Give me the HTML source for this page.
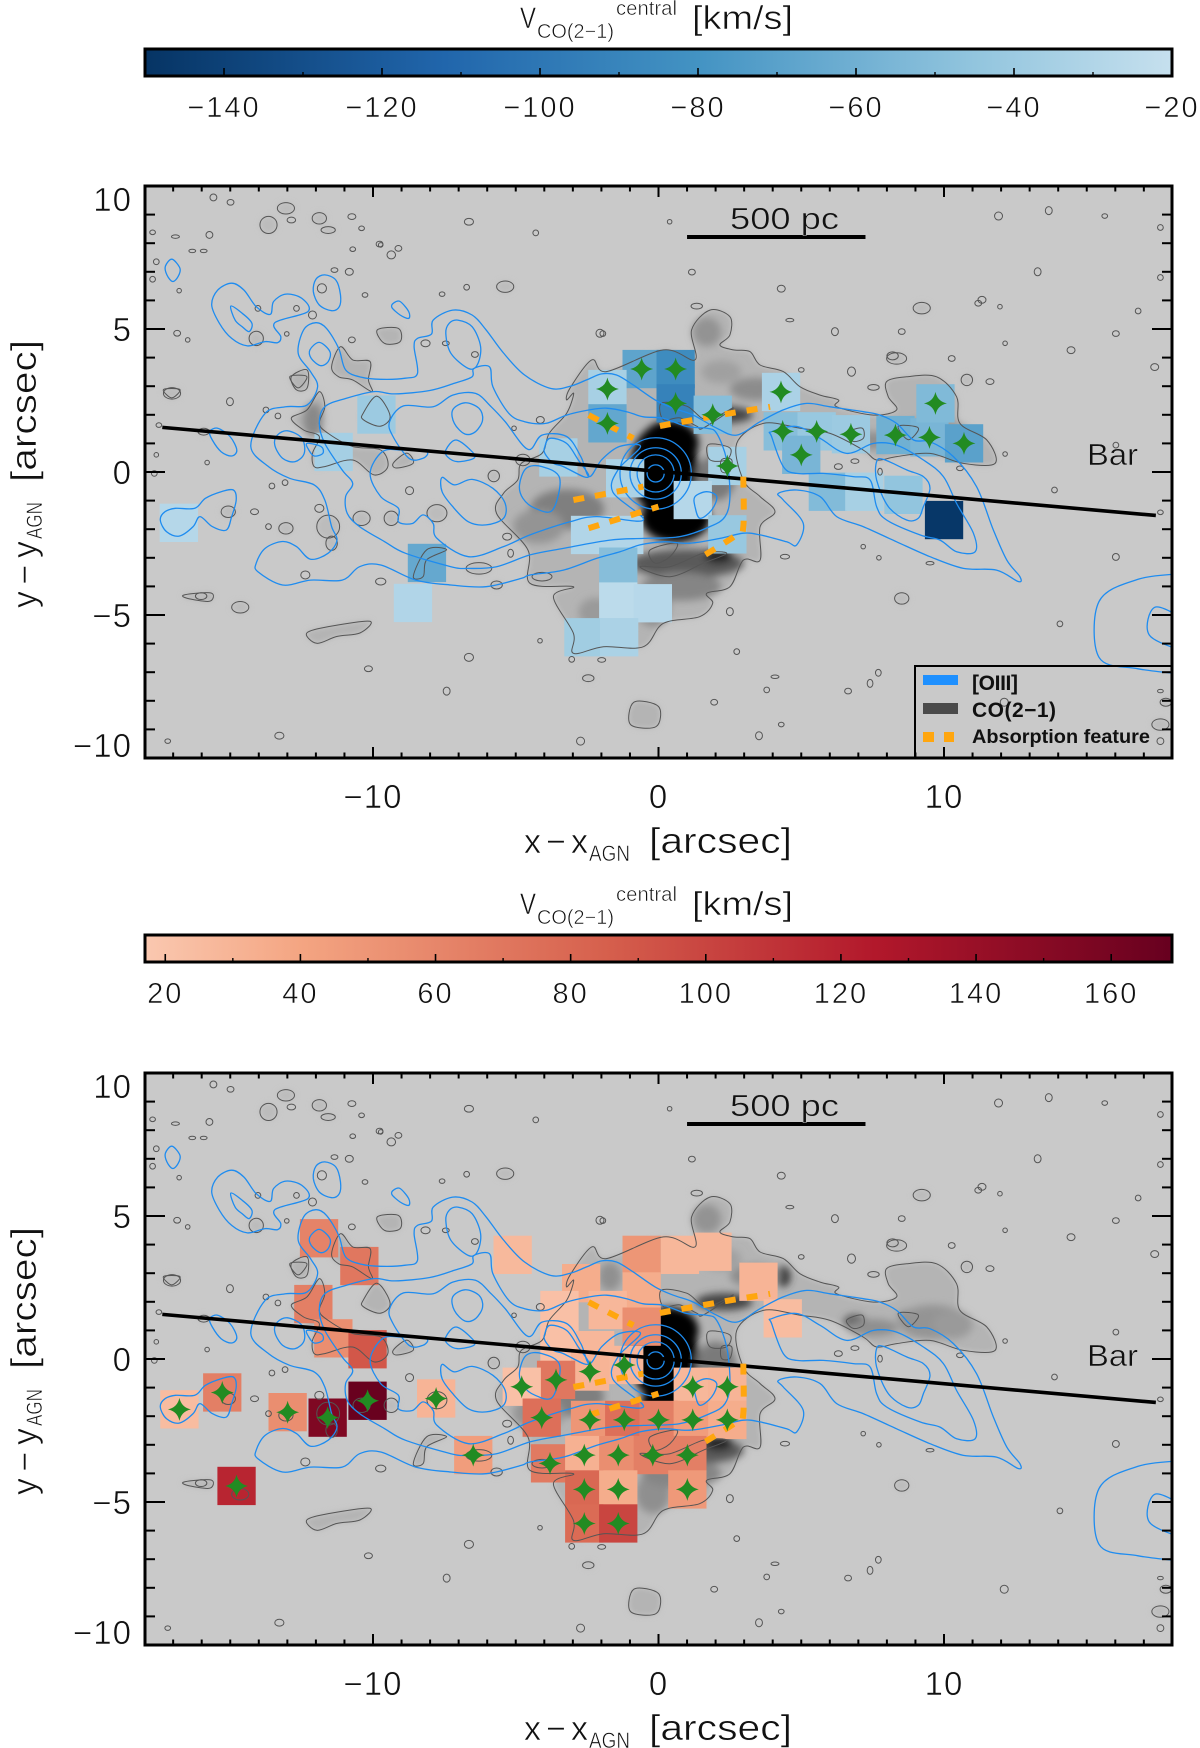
<!DOCTYPE html>
<html lang="en">
<head>
<meta charset="utf-8">
<title>CO(2-1) central velocity maps</title>
<style>
html,body{margin:0;padding:0;background:#fff;}
svg{display:block;}
text{font-family:"Liberation Sans",sans-serif;}
.t{fill:#111;stroke:#fff;stroke-width:.55px;}
.s{fill:#111;stroke:#c9c9c9;stroke-width:.5px;}
</style>
</head>
<body>
<svg id="fig" width="1200" height="1748" viewBox="0 0 1200 1748">
<defs>
<filter id="blur-soft" x="-10%" y="-10%" width="120%" height="120%"><feGaussianBlur stdDeviation="3"/></filter>
<filter id="blur-core" x="-10%" y="-10%" width="120%" height="120%"><feGaussianBlur stdDeviation="4"/></filter>
<clipPath id="clip-top"><rect x="145" y="186" width="1027" height="572"/></clipPath>
<clipPath id="clip-bottom"><rect x="145" y="1073" width="1027" height="572"/></clipPath>
</defs>

<g id="bar-blue"></g>
<g id="bar-red"></g>
<g id="panel-top"></g>
<g id="panel-bottom"></g>

<g>
<text class="t" x="520" y="28" font-size="30" textLength="16" lengthAdjust="spacingAndGlyphs">V</text>
<text class="t" x="537" y="38" font-size="20" textLength="77" lengthAdjust="spacingAndGlyphs">CO(2−1)</text>
<text class="t" x="616" y="15" font-size="20" textLength="61" lengthAdjust="spacingAndGlyphs">central</text>
<text class="t" x="692" y="29" font-size="33" textLength="101" lengthAdjust="spacingAndGlyphs">[km/s]</text>
</g>
<g>
<text class="t" x="520" y="914" font-size="30" textLength="16" lengthAdjust="spacingAndGlyphs">V</text>
<text class="t" x="537" y="924" font-size="20" textLength="77" lengthAdjust="spacingAndGlyphs">CO(2−1)</text>
<text class="t" x="616" y="901" font-size="20" textLength="61" lengthAdjust="spacingAndGlyphs">central</text>
<text class="t" x="692" y="915" font-size="33" textLength="101" lengthAdjust="spacingAndGlyphs">[km/s]</text>
</g>

<g>
<text class="t" x="524" y="853" font-size="34" textLength="64">x−x</text>
<text class="t" x="589" y="861" font-size="22" textLength="41" lengthAdjust="spacingAndGlyphs">AGN</text>
<text class="t" x="649" y="853" font-size="36" textLength="143" lengthAdjust="spacingAndGlyphs">[arcsec]</text>
</g>
<g>
<text class="t" x="524" y="1740" font-size="34" textLength="64">x−x</text>
<text class="t" x="589" y="1748" font-size="22" textLength="41" lengthAdjust="spacingAndGlyphs">AGN</text>
<text class="t" x="649" y="1740" font-size="36" textLength="143" lengthAdjust="spacingAndGlyphs">[arcsec]</text>
</g>
<g>
<text class="t" transform="translate(36,608) rotate(-90)" font-size="34" textLength="67">y−y</text>
<text class="t" transform="translate(42,539) rotate(-90)" font-size="22" textLength="37" lengthAdjust="spacingAndGlyphs">AGN</text>
<text class="t" transform="translate(36,482) rotate(-90)" font-size="36" textLength="142" lengthAdjust="spacingAndGlyphs">[arcsec]</text>
</g>
<g>
<text class="t" transform="translate(36,1495) rotate(-90)" font-size="34" textLength="67">y−y</text>
<text class="t" transform="translate(42,1426) rotate(-90)" font-size="22" textLength="37" lengthAdjust="spacingAndGlyphs">AGN</text>
<text class="t" transform="translate(36,1369) rotate(-90)" font-size="36" textLength="142" lengthAdjust="spacingAndGlyphs">[arcsec]</text>
</g>
</svg>

<script>
/* ---------- colour-scale data ---------- */
const blueStopValues = [-150, -112, -80, -45, -20];
const blueStopColors = ['#063464', '#2166ac', '#4393c3', '#92c5de', '#c6e0ee'];
const redStopValues = [17, 40, 85, 125, 169];
const redStopColors = ['#fac8b0', '#f4a582', '#d6604d', '#b2182b', '#67001f'];
const blueBarTicks = [-140, -120, -100, -80, -60, -40, -20];
const blueBarMinor = [-150, -130, -110, -90, -70, -50, -30];
const redBarTicks = [20, 40, 60, 80, 100, 120, 140, 160];
const redBarMinor = [30, 50, 70, 90, 110, 130, 150];

/* ---------- axis ticks ---------- */
const xTickMajor = [-10, 0, 10];
const yTickMajor = [10, 5, 0, -5, -10];

/* ---------- blueshifted velocity cells (arcsec, km/s) ---------- */
const blueCellX = [-0.59, 0.6, -1.79, -1.79, 0.6, 1.9, 4.29, 4.35, 5.54, 6.74, 5.0, 8.3, 9.49, 10.7, 9.7, 2.41, 1.2, 2.41, -1.17, -3.51, -2.4, -1.2, -1.41, -1.41, -0.2, -2.63, -1.38, 5.93, 7.21, 8.58, 10.0, -9.88, -11.38, -16.8, -8.11, -8.6];
const blueCellY = [3.6, 3.6, 2.9, 1.7, 2.4, 2.0, 2.8, 1.42, 1.42, 1.32, 0.6, 1.29, 1.21, 1.0, 2.4, 0.21, -0.98, -2.18, -0.22, 0.51, -2.2, -2.2, -3.31, -4.53, -4.59, -5.78, -5.78, -0.69, -0.69, -0.8, -1.68, 2.01, 0.7, -1.78, -3.18, -4.58];
const blueCellV = [-68, -85, -35, -66, -92, -50, -33, -50, -42, -40, -56, -60, -56, -70, -53, -35, -28, -42, -33, -35, -30, -30, -50, -25, -27, -38, -33, -52, -35, -45, -148, -40, -36, -28, -65, -30];
const blueCellStar = [1, 1, 1, 1, 1, 1, 1, 1, 1, 1, 1, 1, 1, 1, 1, 1, 0, 0, 0, 0, 0, 0, 0, 0, 0, 0, 0, 0, 0, 0, 0, 0, 0, 0, 0, 0];

/* ---------- redshifted velocity cells (arcsec, km/s) ---------- */
const redCellX = [-11.89, -10.48, -12.09, -11.39, -10.19, -16.78, -15.28, -12.99, -11.59, -10.19, -7.79, -6.49, -14.78, -5.11, -0.59, 0.75, 1.89, 3.5, 4.35, -2.71, -0.59, -1.78, -0.59, -3.47, -3.47, -2.22, -1.2, -2.4, -3.59, -4.79, 1.2, 2.41, -4.09, -2.4, -1.2, 0, 1.2, 2.41, -3.8, -2.6, -1.41, -0.2, 1.01, -2.6, -1.41, 1.01, -2.6, -1.41];
const redCellY = [4.22, 3.25, 1.92, 0.72, 0.34, -1.76, -1.17, -1.86, -2.05, -1.46, -1.38, -3.36, -4.44, 3.64, 3.64, 3.64, 3.75, 2.7, 1.42, 2.65, 2.36, 1.71, 1.13, 1.71, 0.43, 0.31, -0.21, -0.44, -0.73, -0.97, -0.97, -0.97, -2.05, -2.13, -2.13, -2.13, -2.13, -2.13, -3.65, -3.36, -3.36, -3.36, -3.36, -4.56, -4.56, -4.56, -5.75, -5.75];
const redCellV = [62, 70, 65, 55, 90, 25, 65, 55, 155, 168, 30, 45, 118, 27, 50, 28, 28, 30, 25, 35, 35, 28, 55, 22, 22, 28, 28, 30, 70, 22, 28, 30, 75, 50, 75, 65, 45, 35, 68, 32, 55, 65, 65, 80, 35, 48, 78, 100];
const redCellStar = [0, 0, 0, 0, 0, 1, 1, 1, 1, 1, 1, 1, 1, 0, 0, 0, 0, 0, 0, 0, 0, 0, 0, 0, 0, 0, 1, 1, 1, 1, 1, 1, 1, 1, 1, 1, 1, 1, 1, 1, 1, 1, 1, 1, 1, 1, 1, 1];

/* ---------- bar axis and absorption feature (arcsec) ---------- */
const barLineX = [-17.38, 17.42];
const barLineY = [1.56, -1.52];
const absorptionCurves = [
 [[-2.45,1.99],[-0.88,1.18]],
 [[0.05,1.61],[0.87,1.76],[2.39,2.03],[3.91,2.28]],
 [[-2.98,-0.98],[-0.53,-0.51]],
 [[-2.45,-1.97],[0,-1.21]],
 [[2.97,-0.16],[2.97,-1.91],[2.74,-2.2],[1.51,-2.97]]
];

/* ---------- [OIII] contours (arcsec) ---------- */
const oiiiRings = [0.3, 0.65, 0.9, 1.25];
const oiiiClosed = [
 [[-17.04,7.44],[-16.76,7.12],[-16.83,6.83],[-17.02,6.66],[-17.22,6.89],[-17.27,7.2]],
 [[-14.95,6.6],[-14.52,6.36],[-14.09,5.78],[-13.6,5.51],[-13.48,5.96],[-13.05,6.22],[-12.49,6.07],[-12.28,5.61],[-13.44,5.22],[-13.23,4.73],[-13.35,4.52],[-13.78,4.56],[-14.4,4.41],[-14.95,4.67],[-15.38,5.2],[-15.65,5.84],[-15.44,6.36]],
 [[-11.69,6.89],[-11.3,6.71],[-11.14,6.19],[-11.18,5.78],[-11.45,5.64],[-11.88,5.84],[-12.09,6.31],[-12,6.74]],
 [[-14.98,5.8],[-14.58,5.55],[-14.24,5.2],[-14.34,4.91],[-14.58,5.08],[-14.83,5.31]],
 [[-9.05,5.96],[-8.75,5.61],[-8.75,5.37],[-9.05,5.49],[-9.34,5.76],[-9.26,5.92]],
 [[-11.88,4.53],[-11.51,4.21],[-11.57,3.86],[-11.84,3.72],[-12.16,3.97],[-12.21,4.27]],
 [[-12,5.22],[-11.63,5.02],[-11.2,4.32],[-10.96,3.57],[-10.4,3.31],[-9.73,3.24],[-8.87,3.28],[-8.44,3.45],[-8.56,4.38],[-8.44,4.67],[-7.95,4.82],[-7.89,5.31],[-7.21,5.66],[-6.53,5.49],[-6.04,4.97],[-5.43,4.16],[-4.69,3.39],[-3.77,2.92],[-3.09,3],[-2.52,3.22],[-1.99,3.43],[-1.47,3.39],[-0.88,3.04],[-0.12,2.52],[0.52,2.23],[1.22,1.99],[2.04,1.53],[2.74,1.29],[3.56,1.76],[4.37,2.17],[5.19,2.4],[6.01,2.28],[7.17,2.11],[7.76,1.99],[8.34,1.7],[8.93,1.12],[9.51,1.06],[10.33,0.54],[11.14,-0.51],[11.73,-2.03],[12.2,-3.08],[12.66,-3.66],[12.6,-3.83],[11.84,-3.43],[10.68,-3.37],[9.51,-2.96],[8.34,-2.44],[7.17,-1.91],[6.24,-1.56],[5.66,-0.86],[4.84,-0.63],[4.2,-0.75],[4.37,-0.98],[5.07,-1.79],[4.84,-2.55],[4.49,-2.44],[3.56,-2.2],[2.97,-2.14],[2.15,-2.32],[1.1,-2.49],[0.17,-2.44],[-0.65,-2.55],[-1.35,-2.79],[-2.17,-3.02],[-3.33,-3.43],[-4.5,-3.6],[-4.81,-3.72],[-6.04,-4.01],[-7.27,-3.95],[-8.5,-3.78],[-9.73,-3.25],[-10.47,-3.31],[-11.08,-3.78],[-12.19,-3.78],[-13.17,-3.95],[-14.03,-3.49],[-14.09,-3.19],[-13.78,-2.67],[-13.17,-2.43],[-12.68,-2.61],[-12.19,-3.05],[-11.57,-2.84],[-11.26,-2.38],[-11.45,-1.91],[-11.69,-0.98],[-12.06,-0.45],[-12.92,-0.22],[-13.66,0.19],[-14.28,0.89],[-13.78,2.05],[-13.05,2.28],[-12.31,2.34],[-11.94,2.98],[-12.19,3.51],[-12.62,4.15],[-12.43,4.97]],
 [[-11.88,1.7],[-11.69,2.28],[-10.96,2.57],[-9.97,2.81],[-9.24,2.73],[-8.01,2.85],[-7.15,3.1],[-6.53,3.33],[-6.47,3.62],[-5.92,3.68],[-5.8,2.98],[-5.24,2.05],[-4.69,1.76],[-3.95,1.7],[-3.22,1.99],[-2.42,2.17],[-1.82,2.23],[-1.12,2.11],[-0.53,1.93],[0.17,1.88],[0.99,1.59],[1.69,1.53],[2.04,1.35],[2.39,0.42],[2.5,-0.86],[2.33,-1.56],[1.8,-1.91],[0.75,-2.26],[-0.53,-2.32],[-1.7,-2.38],[-3.33,-2.67],[-4.5,-2.9],[-5.67,-3.31],[-6.66,-3.37],[-7.27,-3.31],[-8.87,-2.84],[-9.6,-2.43],[-10.47,-1.91],[-10.9,-1.45],[-10.96,-0.86],[-10.71,-0.4],[-11.08,0.07],[-11.69,1]],
 [[-9.42,1.76],[-8.93,2.31],[-7.89,2.28],[-7.21,2.69],[-6.41,2.75],[-5.86,2.28],[-5.37,1.76],[-4.57,0.79],[-4.08,1.29],[-3.22,1.24],[-2.72,0.54],[-2.42,-0.16],[-1.99,0.43],[-1.37,0.89],[-0.63,0.89],[-1.4,0.1],[-1.6,-0.7],[-0.53,-1.68],[-2.17,-1.56],[-3.1,-1.74],[-4.5,-2.2],[-5.43,-2.61],[-6.66,-2.96],[-7.76,-2.32],[-7.89,-1.8],[-8.25,-1.5],[-8.62,-1.8],[-9.11,-1.74],[-9.11,-1.27],[-9.73,-0.86],[-10.1,-0.05],[-9.67,0.71],[-8.99,0.77],[-8.13,0.71],[-8.25,0.48],[-8.74,0.48],[-9.3,1.24]],
 [[-6.78,2.42],[-6.29,2.23],[-6.16,1.82],[-6.41,1.41],[-6.78,1.33],[-7.15,1.7],[-7.21,2.17]],
 [[-7.03,5.31],[-6.53,5.08],[-6.23,4.38],[-6.35,3.74],[-6.66,3.62],[-7.27,4.15],[-7.45,4.85],[-7.33,5.2]],
 [[-15.44,1.53],[-15.01,1.24],[-14.77,0.77],[-14.95,0.56],[-15.32,0.71],[-15.63,1.12],[-15.72,1.41]],
 [[-12.99,1.44],[-12.49,1.18],[-12.41,0.65],[-12.74,0.36],[-13.17,0.48],[-13.44,0.94],[-13.35,1.29]],
 [[-12.31,1],[-11.82,0.89],[-11.76,0.65],[-12.06,0.56],[-12.25,0.77]],
 [[-16.92,-1.27],[-16.24,-1.27],[-15.87,-0.92],[-15.32,-0.69],[-14.89,-0.63],[-14.79,-0.98],[-14.95,-1.56],[-15.14,-2.03],[-15.63,-1.91],[-16.06,-1.56],[-16.3,-1.91],[-16.79,-2.24],[-17.23,-2.09],[-17.45,-1.68],[-17.29,-1.39]],
 [[-7.09,1.12],[-6.53,0.71],[-6.47,0.48],[-7.03,0.36],[-7.39,0.53],[-7.45,0.77]],
 [[-7.58,-0.19],[-7.15,-0.45],[-6.53,-0.26],[-5.8,-0.57],[-5.37,-1.1],[-5.43,-1.62],[-6.04,-1.85],[-6.66,-1.74],[-7.21,-1.21],[-7.58,-0.69]],
 [[-3.98,0.89],[-3.8,1.18],[-3.22,1],[-2.81,0.42],[-2.45,-0.1],[-2.63,-0.16],[-3.33,0.19],[-3.68,0.3],[-3.98,0.65]],
 [[-4.87,-0.45],[-4.63,0.13],[-4.08,0.19],[-3.46,-0.22],[-3.71,-1.33],[-4.32,-1.27],[-4.75,-0.92]],
 [[7.64,0.36],[7.88,0.44],[8.7,0.07],[9.28,-0.16],[9.51,-0.57],[9.28,-1.21],[9.1,-1.62],[8.69,-1.68],[8.05,-1.21],[7.64,-0.28]],
 [[3.96,1.24],[4.37,0.19],[4.84,-0.05],[5.77,-0.05],[6.82,-0.16],[7.41,-0.28],[7.64,-1.21],[7.99,-1.68],[9.16,-2.2],[9.86,-2.38],[10.44,-2.79],[11.09,-2.79],[11.03,-2.14],[10.44,-1.1],[9.98,-0.16],[9.28,0.42],[8.34,0.94],[7.53,1],[6.59,0.65],[5.66,1.18],[4.84,1.59],[3.96,1.41]],
 [[1.28,-0.86],[1.69,-0.69],[2.04,-0.86],[1.86,-1.33],[1.45,-1.62],[1.28,-1.21]]
];
const oiiiOpen = [
 [[18.4,-3.55],[16.8,-3.75],[15.43,-4.53],[15.43,-6.48],[16.8,-6.88],[18.4,-7.07]],
 [[18.4,-5.12],[17.38,-4.73],[17.19,-5.7],[18.4,-6.28]]
];

/* ---------- CO(2-1) emission outlines (arcsec) ---------- */
const coOutlines = [
 [[-3.22,2.52],[-3.1,2.93],[-2.34,3.92],[-1.82,3.51],[0.17,4.27],[1.28,3.92],[1.16,4.97],[1.8,5.66],[2.5,5.43],[2.5,4.79],[2.15,4.44],[2.62,4.27],[3.2,4.21],[3.56,3.74],[4.37,3.51],[4.96,2.98],[5.66,2.69],[6.3,2.52],[6.24,2.28],[7.53,1.99],[8.34,2.17],[8.05,2.63],[7.99,3.16],[8.69,3.33],[9.74,3.33],[10.44,2.63],[10.56,1.7],[11.5,1.12],[11.79,0.3],[10.68,0.3],[9.51,0.65],[8.34,0.54],[7.64,0.42],[7.17,0.77],[6.01,1.35],[4.96,1.53],[3.67,1.7],[2.74,1],[2.97,-0.28],[3.56,-0.86],[4.08,-1.39],[3.56,-1.91],[3.56,-3.08],[2.97,-3.08],[2.5,-4.01],[1.69,-4.24],[1.9,-4.59],[1.44,-5.06],[0.17,-5.29],[-0.53,-6.11],[-1.93,-6.11],[-2.98,-6.34],[-2.98,-5.64],[-3.68,-4.36],[-2.98,-4.01],[-4.5,-3.89],[-4.57,-2.73],[-5.67,-1.45],[-5.43,-0.75],[-4.93,-0.28],[-4.81,0.3],[-4.08,0.65],[-3.83,1.35],[-3.22,2.05],[-2.97,2.75]],
 [[-12.86,1.88],[-12.31,2.17],[-11.88,2.81],[-11.69,2.28],[-11.88,1.7],[-11.57,1.35],[-10.71,0.89],[-9.73,0.77],[-9.48,0.19],[-9.97,-0.1],[-10.71,0.42],[-11.69,0.19],[-12.06,0.19],[-12.12,0.65],[-11.88,1.24],[-12.43,1.47]],
 [[-11.14,4.38],[-10.71,3.92],[-10.1,3.86],[-10.16,3.22],[-10.04,2.81],[-10.71,3.22],[-11.2,3.33],[-11.45,3.68]],
 [[-12.86,3.33],[-12.31,3.57],[-12.31,2.93],[-12.68,2.87]],
 [[-9.85,4.97],[-9.11,5.02],[-9.05,4.56],[-9.6,4.5]],
 [[-12.32,-5.63],[-11.51,-5.4],[-10.11,-5.22],[-10.46,-5.63],[-11.27,-5.75],[-11.97,-5.99]],
 [[-10.34,2.06],[-9.86,2.65],[-9.4,1.95],[-9.75,1.6],[-10.34,1.83]],
 [[-9.29,0.31],[-8.82,0.66],[-8.59,0.31],[-9.17,0.14]],
 [[-16.59,-4.29],[-15.67,-4.23],[-15.73,-4.52],[-16.53,-4.41]],
 [[-8.59,-3.65],[-8.12,-2.72],[-7.42,-2.72],[-8.12,-3.07],[-8.24,-3.65]],
 [[-17.34,2.88],[-16.76,2.88],[-17.05,2.59]],
 [[-12.91,3.34],[-12.32,3.34],[-12.62,2.94]],
 [[-0.86,-8.05],[0,-8.2],[-0.08,-8.9],[-0.98,-8.83]]
];
const coInnerContours = [
 [[1.75,0.96],[2.5,0.84],[2.39,0.43],[1.8,0.43]],
 [[2.21,0.43],[2.56,0.43],[2.5,0.02],[2.21,0.02]],
 [[0.11,2.41],[0.99,2.3],[1.69,1.83],[2.62,2.24],[1.57,1.54],[1.34,1.6],[0.75,1.89],[0.17,1.83]],
 [[6.59,1.36],[7.12,1.54],[7.18,1.19],[6.82,1.07]],
 [[8.4,1.6],[9.1,1.54],[8.75,1.13]],
 [[-0.3,-2.73],[0.64,-2.49],[0.4,-2.96],[-0.12,-3.19]],
 [[-0.65,-3.31],[0.4,-3.66],[1.57,-3.19],[2.39,-2.84],[1.57,-2.84],[0.4,-3.31]]
];
const coCoreX = [0.2, 0.6, 1.0, 0.4, 2.3, 4.37, 6.88, 8.8, 2.1, -3.2, -1.7, -0.2, 1.7, -12.1, 2.0, 3.4, 9.6, 0.8, -4.2, -2.2, 10.3, 7.5, 2.2];
const coCoreY = [0.1, -1.6, -3.2, 1.0, 2.0, 2.88, 1.3, 1.42, -2.95, -1.3, 2.88, -4.7, 4.9, 1.82, -0.2, 2.9, 1.3, -4.0, -1.9, -4.9, 1.2, 1.1, 3.5];
const coCoreRx = [1.2, 1.2, 2.0, 1.0, 1.0, 0.25, 0.4, 0.4, 0.5, 1.3, 0.4, 0.6, 0.5, 0.35, 0.7, 0.9, 1.2, 1.4, 0.9, 0.6, 0.7, 0.9, 0.7];
const coCoreRy = [1.6, 0.85, 0.5, 0.8, 0.3, 0.35, 0.25, 0.3, 0.25, 0.7, 0.5, 0.7, 0.5, 0.6, 0.8, 0.4, 0.6, 0.5, 0.6, 0.5, 0.5, 0.3, 0.4];
const coCoreShade = ['#000', '#000', '#5a5a5a', '#000', '#444', '#333', '#555', '#555', '#222', '#7f7f7f', '#909090', '#8f8f8f', '#939393', '#888', '#7a7a7a', '#8c8c8c', '#949494', '#858585', '#949494', '#9a9a9a', '#9a9a9a', '#8f8f8f', '#a0a0a0'];

const islandX = [-15.59,-14.99,-13.05,-13.66,-12.86,-11.88,-11.57,-10.74,-10.4,-17.72,-16.92,-15.73,-16.33,-15.93,-10.71,-9.73,-9.36,-9.11,-17.59,-17.72,-16.79,-11.35,-10.83,-11.79,-10.28,-7.58,-6.72,-5.37,-2.05,-14.03,-12.68,-12.12,-16.86,-16.49,-14.09,-13.02,-10.74,-8.16,-7.45,-6.43,-17.04,-15.01,-13.75,-13.33,-17.5,-15.93,-5.06,-4.14,-4.75,-5.77,-8.72,-13.54,-13.08,-15.81,-17.59,-17.66,-14.15,-15.07,-13.05,-11.88,-11.57,-10.4,-9.36,-7.76,-11.45,-13.66,-5.3,-5.18,-12.37,-9.73,-6.29,-5.67,-4.08,1.34,9.22,11.2,11.96,4.6,6.18,8.52,12.14,6.76,5,8.34,10.27,10.8,7.53,11.61,12.14,6.3,6.88,7.76,10.56,7.17,7.72,4.43,9.51,8.52,2.5,2.74,3.79,4.08,-2.46,-1.99,-3.04,-4.15,7.7,7.41,11.91,13.28,11.33,8.2,15.63,17.58,14.45,16.02,17.38,17.58,16.8,13.67,17.58,17.58,17.77,17.58,12.11,6.64,4.3,-2.73,-7.42,-13.28,-17.19,-10.16,-6.64,-14.65,-16.02,1.95,3.52,14.06,16.02,17.58,13.87,16.02,-6.64,-9.77,-4.3,0.39,4.3,1.17,-1.95];
const islandY = [9.6,9.43,9.22,8.64,8.81,8.87,8.46,8.93,8.52,8.38,8.23,8.29,7.73,7.73,7.79,7.94,7.59,7.82,7.35,6.74,6.34,7.06,7,6.42,6.19,6.22,6.46,6.48,4.85,5.72,5.72,5.49,4.85,4.62,4.67,4.83,4.62,4.5,4.5,4.11,2.75,2.46,2.17,1.96,1.64,1.41,1.53,1.82,0.42,-0.14,-0.65,-0.49,-0.37,0.33,0.6,-0.05,-1.39,-1.39,-1.97,-1.27,-1.91,-1.62,-1.62,-1.44,-2.49,-1.91,-2.26,-2.84,-3.6,-3.83,-3.37,-3.95,-3.66,5.8,5.73,5.9,5.78,5.31,4.91,4.91,4.5,3.51,3.57,3.97,3.97,3.22,2.96,3.16,0.63,0.19,0.38,0.01,0.13,-2.61,-3,-2.96,-3.19,-4.42,-4.88,-6.28,-7.62,-7.16,-7.21,-6.57,-6.55,-5.9,-7.02,-7.39,8.95,7,6.02,4.06,8.95,8.55,4.26,4.84,3.67,6.8,5.63,9.14,-7.66,-8.83,-8.05,-9.41,-8.05,-7.66,-8.83,-9.41,-7.66,-9.22,-9.41,-6.88,-6.48,-4.73,-4.34,-8.05,-9.22,-5.31,-2.97,-1.41,-0.63,0.94,8.75,7.97,8.36,8.75,6.41,6.99,4.84];
const islandRx = [.12,.12,.3,.3,.15,.25,.25,.14,.1,.1,.14,.12,.12,.12,.1,.08,.15,.12,.1,.1,.08,.12,.14,.16,.1,.1,.1,.3,.14,.1,.1,.14,.12,.08,.25,.08,.12,.16,.12,.12,.3,.12,.1,.1,.1,.2,.08,.14,.25,.2,.14,.1,.1,.08,.08,.1,.14,.25,.25,.16,.4,.3,.25,.35,.2,.1,.16,.1,.16,.18,.45,.2,.35,.2,.3,.12,.08,.14,.12,.12,.08,.14,.1,.35,.12,.2,.2,.14,.08,.14,.14,.08,.12,.08,.08,.16,.14,.25,.12,.1,.1,.14,.2,.14,.1,.08,.1,.1,.14,.12,.14,.2,.1,.1,.14,.12,.14,.1,.1,.12,.1,.3,.2,.12,.14,.12,.1,.14,.12,.16,.1,.14,.16,.3,.2,.12,.12,.1,.12,.1,.1,.1,.16,.12,.1,.08,.14,.12,.1];
const islandRy = [.12,.1,.2,.3,.1,.2,.12,.1,.08,.08,.06,.12,.06,.06,.08,.08,.14,.1,.1,.1,.08,.08,.12,.16,.08,.08,.1,.2,.14,.1,.1,.14,.1,.08,.25,.08,.1,.12,.08,.1,.2,.14,.1,.1,.08,.12,.08,.12,.2,.2,.14,.1,.1,.08,.08,.1,.1,.2,.2,.14,.4,.25,.25,.3,.25,.1,.12,.14,.14,.12,.2,.14,.15,.1,.2,.1,.08,.06,.14,.1,.08,.16,.08,.2,.1,.2,.1,.1,.08,.1,.08,.12,.08,.08,.08,.08,.06,.2,.14,.1,.1,.06,.12,.08,.1,.08,.12,.14,.14,.14,.12,.14,.08,.1,.12,.1,.12,.1,.1,.14,.06,.2,.14,.12,.14,.1,.08,.14,.14,.12,.08,.1,.14,.2,.12,.1,.14,.1,.12,.08,.1,.1,.12,.1,.1,.08,.12,.1,.1];

/* ---------- shared helpers ---------- */
const fig = document.getElementById('fig');
const NS = fig.namespaceURI;
const PLOT_LEFT = 145, PLOT_RIGHT = 1172, PLOT_H = 572, PX_X = 28.55, PX_Y = 28.6, CELL = 1.34;
const sx = x => 658.5 + x * PX_X;
const syFor = off => y => off + 472 - y * PX_Y;

function mk(parent, tag, attrs) {
  const e = document.createElementNS(NS, tag);
  for (const k in attrs) e.setAttribute(k, attrs[k]);
  parent.appendChild(e);
  return e;
}
function hex(c) {
  let s = c.slice(1);
  if (s.length === 3) s = s.split('').map(a => a + a).join('');
  return [0, 2, 4].map(i => parseInt(s.substr(i, 2), 16));
}
function scale(stopsV, stopsC, v) {
  if (v <= stopsV[0]) return stopsC[0];
  for (let i = 1; i < stopsV.length; i++) {
    if (v <= stopsV[i]) {
      const t = (v - stopsV[i - 1]) / (stopsV[i] - stopsV[i - 1]);
      const a = hex(stopsC[i - 1]), b = hex(stopsC[i]);
      return 'rgb(' + a.map((q, j) => Math.round(q + (b[j] - q) * t)).join(',') + ')';
    }
  }
  return stopsC[stopsC.length - 1];
}
function smooth(pts, closed, sy) {
  const P = pts.map(p => [sx(p[0]), sy(p[1])]);
  const n = P.length;
  const at = i => closed ? P[(i + n) % n] : P[Math.max(0, Math.min(n - 1, i))];
  let d = 'M' + P[0][0].toFixed(1) + ' ' + P[0][1].toFixed(1);
  const end = closed ? n : n - 1;
  for (let i = 0; i < end; i++) {
    const p0 = at(i - 1), p1 = at(i), p2 = at(i + 1), p3 = at(i + 2);
    const c1 = [p1[0] + (p2[0] - p0[0]) / 6, p1[1] + (p2[1] - p0[1]) / 6];
    const c2 = [p2[0] - (p3[0] - p1[0]) / 6, p2[1] - (p3[1] - p1[1]) / 6];
    d += 'C' + c1[0].toFixed(1) + ' ' + c1[1].toFixed(1) + ' ' + c2[0].toFixed(1) + ' ' + c2[1].toFixed(1) + ' ' + p2[0].toFixed(1) + ' ' + p2[1].toFixed(1);
  }
  return d + (closed ? 'Z' : '');
}
function label(v) { return String(v).replace('-', '\u2212'); }

/* ---------- colorbars ---------- */
function drawBar(host, id, y0, vMin, vMax, stopsV, stopsC, major, minor, labelY) {
  const defs = fig.querySelector('defs');
  const grad = mk(defs, 'linearGradient', { id: id, x1: 0, x2: 1, y1: 0, y2: 0 });
  stopsV.forEach((v, i) => {
    mk(grad, 'stop', { offset: ((v - vMin) / (vMax - vMin)).toFixed(4), 'stop-color': stopsC[i] });
  });
  const bx = v => PLOT_LEFT + (v - vMin) / (vMax - vMin) * (PLOT_RIGHT - PLOT_LEFT);
  const r = mk(host, 'rect', { x: PLOT_LEFT, y: y0, width: PLOT_RIGHT - PLOT_LEFT, height: 27, fill: 'url(#' + id + ')', stroke: '#000', 'stroke-width': 3 });
  
  
  major.forEach(v => {
    const t = mk(host, 'line', { x1: bx(v), x2: bx(v), y1: y0 + 27, y2: y0 + 19, stroke: '#000', 'stroke-width': 1.6 });
    
    
    const tx = mk(host, 'text', { x: bx(v), y: labelY, 'text-anchor': 'middle', 'font-size': 29, class: 't', 'letter-spacing': 2 });
    tx.textContent = label(v);
    
    
  });
  minor.forEach(v => {
    const t = mk(host, 'line', { x1: bx(v), x2: bx(v), y1: y0 + 27, y2: y0 + 23, stroke: '#000', 'stroke-width': 1.4 });
    
    
  });
}
drawBar(document.getElementById('bar-blue'), 'grad-blue', 49, -150, -20, blueStopValues, blueStopColors, blueBarTicks, blueBarMinor, 117);
drawBar(document.getElementById('bar-red'), 'grad-red', 935, 17, 169, redStopValues, redStopColors, redBarTicks, redBarMinor, 1003);

/* ---------- map panels ---------- */
function drawPanel(root, off, clipId, cellX, cellY, cellV, cellStar, stopsV, stopsC, withLegend, barTextY) {
  const sy = syFor(off);
  const top = off + 186, bottom = off + 758;

  const plot = mk(root, 'g', { 'clip-path': 'url(#' + clipId + ')' });
  
  

  const bg = mk(plot, 'rect', { x: PLOT_LEFT, y: top, width: PLOT_RIGHT - PLOT_LEFT, height: PLOT_H, fill: '#c9c9c9' });
  
  

  const soft = mk(plot, 'g', { filter: 'url(#blur-soft)' });
  
  
  coOutlines.forEach(o => mk(soft, 'path', { d: smooth(o, true, sy), fill: '#b4b4b4' }));
  islandX.forEach((x, i) => {
    if (islandRx[i] >= 0.2) mk(soft, 'ellipse', { cx: sx(x), cy: sy(islandY[i]), rx: islandRx[i] * PX_X, ry: islandRy[i] * PX_Y, fill: '#bcbcbc' });
  });

  const core = mk(plot, 'g', { filter: 'url(#blur-core)' });
  
  
  coCoreX.forEach((x, i) => {
    mk(core, 'ellipse', { cx: sx(x), cy: sy(coCoreY[i]), rx: coCoreRx[i] * PX_X, ry: coCoreRy[i] * PX_Y, fill: coCoreShade[i] });
  });

  const cells = mk(plot, 'g', {});
  
  
  cellX.forEach((x, i) => {
    const c = mk(cells, 'rect', {
      x: (sx(x) - CELL * PX_X / 2).toFixed(1), y: (sy(cellY[i]) - CELL * PX_Y / 2).toFixed(1),
      width: (CELL * PX_X).toFixed(1), height: (CELL * PX_Y).toFixed(1), fill: scale(stopsV, stopsC, cellV[i])
    });
    
    
  });

  const gray = mk(plot, 'g', { fill: 'none', stroke: '#555', 'stroke-width': 1 });
  
  
  coOutlines.forEach(o => mk(gray, 'path', { d: smooth(o, true, sy) }));
  coInnerContours.forEach(o => mk(gray, 'path', { d: smooth(o, true, sy) }));
  islandX.forEach((x, i) => {
    mk(gray, 'ellipse', { cx: sx(x), cy: sy(islandY[i]), rx: islandRx[i] * PX_X, ry: islandRy[i] * PX_Y });
  });

  const blue = mk(plot, 'g', { fill: 'none', stroke: '#1e8cf0', 'stroke-width': 1.3 });
  
  
  oiiiClosed.forEach(o => mk(blue, 'path', { d: smooth(o, true, sy) }));
  oiiiOpen.forEach(o => mk(blue, 'path', { d: smooth(o, false, sy) }));
  oiiiRings.forEach(r => mk(blue, 'circle', { cx: sx(-0.1), cy: sy(-0.05), r: r * PX_X }));

  const bar = mk(plot, 'line', { x1: sx(barLineX[0]), y1: sy(barLineY[0]), x2: sx(barLineX[1]), y2: sy(barLineY[1]), stroke: '#000', 'stroke-width': 3.6 });
  
  

  const abs = mk(plot, 'g', { fill: 'none', stroke: '#ffa60f', 'stroke-width': 6, 'stroke-dasharray': '11 11' });
  
  
  absorptionCurves.forEach(o => mk(abs, 'path', { d: smooth(o, false, sy) }));

  cellX.forEach((x, i) => {
    if (!cellStar[i]) return;
    const px = sx(x), py = sy(cellY[i]), r = 11.5, q = 2;
    const st = mk(plot, 'path', {
      d: 'M' + px + ' ' + (py - r) + 'Q' + (px + q) + ' ' + (py - q) + ' ' + (px + r) + ' ' + py +
         'Q' + (px + q) + ' ' + (py + q) + ' ' + px + ' ' + (py + r) +
         'Q' + (px - q) + ' ' + (py + q) + ' ' + (px - r) + ' ' + py +
         'Q' + (px - q) + ' ' + (py - q) + ' ' + px + ' ' + (py - r) + 'Z',
      fill: '#228b22'
    });
    
    
  });

  const barTxt = mk(root, 'text', { x: 1087, y: barTextY, 'font-size': 31, class: 's', textLength: 51, lengthAdjust: 'spacingAndGlyphs' });
  barTxt.textContent = 'Bar';
  
  

  const sb = mk(root, 'line', { x1: sx(1), x2: sx(7.25), y1: off + 237, y2: off + 237, stroke: '#000', 'stroke-width': 4 });
  
  
  const sbt = mk(root, 'text', { x: 730, y: off + 229, 'font-size': 31, class: 's', textLength: 109, lengthAdjust: 'spacingAndGlyphs' });
  sbt.textContent = '500 pc';
  
  

  if (withLegend) {
    const lg = mk(root, 'g', {});
    
    
    mk(lg, 'path', { d: 'M915 758V666H1172', fill: 'none', stroke: '#000', 'stroke-width': 2 });
    const e1 = mk(lg, 'rect', { x: 923, y: 675, width: 35, height: 10, fill: '#1e90ff' });
    
    
    const e2 = mk(lg, 'rect', { x: 923, y: 703, width: 35, height: 11, fill: '#4a4a4a' });
    
    
    const e3 = mk(lg, 'rect', { x: 923, y: 732, width: 11, height: 10, fill: '#ffa60f' });
    
    
    const e4 = mk(lg, 'rect', { x: 944, y: 732, width: 10, height: 10, fill: '#ffa60f' });
    
    
    const l1 = mk(lg, 'text', { x: 972, y: 690, 'font-size': 21, 'font-weight': 'bold', textLength: 46, fill: '#111' });
    l1.textContent = '[OIII]';
    
    
    const l2 = mk(lg, 'text', { x: 972, y: 717, 'font-size': 21, 'font-weight': 'bold', textLength: 84, fill: '#111' });
    l2.textContent = 'CO(2\u22121)';
    
    
    const l3 = mk(lg, 'text', { x: 972, y: 743, 'font-size': 19, 'font-weight': 'bold', textLength: 178, lengthAdjust: 'spacingAndGlyphs', fill: '#111' });
    l3.textContent = 'Absorption feature';
    
    
  }

  const frame = mk(root, 'rect', { x: PLOT_LEFT, y: top, width: PLOT_RIGHT - PLOT_LEFT, height: PLOT_H, fill: 'none', stroke: '#000', 'stroke-width': 3 });
  
  

  const ticks = mk(root, 'g', { stroke: '#000', 'stroke-width': 2 });
  
  
  for (let x = -17; x <= 17; x++) {
    const len = x % 10 === 0 ? 11 : 5.5;
    mk(ticks, 'line', { x1: sx(x), x2: sx(x), y1: top, y2: top + len });
    mk(ticks, 'line', { x1: sx(x), x2: sx(x), y1: bottom, y2: bottom - len });
  }
  for (let y = -9; y <= 9; y++) {
    const len = y % 5 === 0 ? 20 : 10;
    mk(ticks, 'line', { x1: PLOT_LEFT, x2: PLOT_LEFT + len, y1: sy(y), y2: sy(y) });
    mk(ticks, 'line', { x1: PLOT_RIGHT, x2: PLOT_RIGHT - len, y1: sy(y), y2: sy(y) });
  }

  xTickMajor.forEach(v => {
    const t = mk(root, 'text', { x: sx(v), y: off + 808, 'text-anchor': 'middle', 'font-size': 33, class: 't', 'letter-spacing': 1 });
    t.textContent = label(v);
    
    
  });
  yTickMajor.forEach(v => {
    const c = Math.max(top + 13, Math.min(bottom - 13, sy(v)));
    const t = mk(root, 'text', { x: 132, y: c + 12, 'text-anchor': 'end', 'font-size': 33, class: 't', 'letter-spacing': 1 });
    t.textContent = label(v);
    
    
  });
}

drawPanel(document.getElementById('panel-top'), 0, 'clip-top', blueCellX, blueCellY, blueCellV, blueCellStar, blueStopValues, blueStopColors, true, 465);
drawPanel(document.getElementById('panel-bottom'), 887, 'clip-bottom', redCellX, redCellY, redCellV, redCellStar, redStopValues, redStopColors, false, 1366);
</script>
</body>
</html>
